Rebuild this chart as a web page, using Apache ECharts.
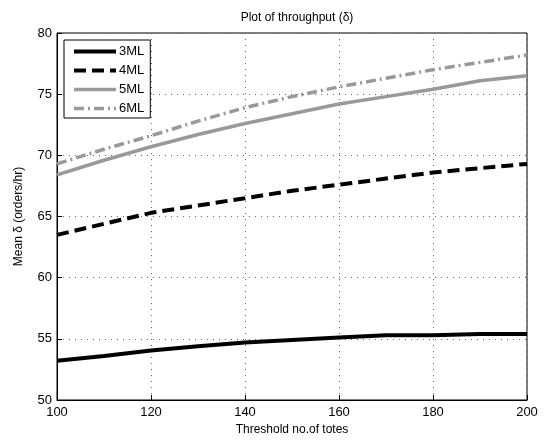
<!DOCTYPE html>
<html>
<head>
<meta charset="utf-8">
<script src="https://cdn.jsdelivr.net/npm/echarts@6/dist/echarts.min.js"></script>
<style>
    html, body { margin: 0; padding: 0; background: #fff; }
    #grafico { width: 549px; height: 441px; }
</style>
</head>
<body>
<div id="grafico"></div>
<script>
    // dados
    var limites = [100, 110, 120, 130, 140, 150, 160, 170, 180, 190, 200];
    var nomes = ['3ML', '4ML', '5ML', '6ML'];
    var ml3 = [53.2, 53.6, 54.05, 54.4, 54.7, 54.9, 55.1, 55.3, 55.3, 55.4, 55.4];
    var ml4 = [63.5, 64.4, 65.3, 65.9, 66.5, 67.1, 67.6, 68.1, 68.6, 68.95, 69.3];
    var ml5 = [68.4, 69.6, 70.7, 71.7, 72.6, 73.4, 74.2, 74.8, 75.4, 76.1, 76.5];
    var ml6 = [69.3, 70.5, 71.6, 72.8, 73.9, 74.8, 75.6, 76.3, 77.0, 77.6, 78.2];

    var fonte = 'Liberation Sans, Arial, sans-serif';
    var cinza = '#999999';
    var larguras = [4, 4, 3.5, 3.5];

    function serie(nome, valores, cor, largura, tipo) {
        return {
            name: nome,
            type: 'line',
            symbol: 'none',
            data: limites.map(function (x, i) { return [x, valores[i]]; }),
            lineStyle: { color: cor, width: largura, type: tipo },
            itemStyle: { color: cor }
        };
    }

    var chart = echarts.init(document.getElementById('grafico'));
    chart.setOption({
        animation: false,
        textStyle: { fontFamily: fonte },
        title: {
            text: 'Plot of throughput (\u03b4)',
            left: 292, top: 7,
            textAlign: 'center',
            textStyle: { fontSize: 12, fontWeight: 'normal', color: '#000', fontFamily: fonte }
        },
        legend: {
            data: nomes.map(function (n, i) {
                return { name: n, lineStyle: { width: larguras[i] } };
            }),
            orient: 'vertical',
            left: 64, top: 40,
            backgroundColor: '#fff',
            borderColor: '#000',
            borderWidth: 1,
            padding: [5, 6, 3, 8],
            itemWidth: 42,
            itemHeight: 11,
            itemGap: 6,
            itemStyle: { opacity: 0 },
            textStyle: { fontSize: 13, color: '#000', fontFamily: fonte, padding: [0, 0, 0, -2] }
        },
        grid: {
            left: 57, right: 22, top: 33, bottom: 38,
            show: true,
            borderColor: '#000',
            borderWidth: 1
        },
        xAxis: {
            type: 'value',
            min: 100, max: 200, interval: 20,
            name: 'Threshold no.of totes',
            nameLocation: 'middle',
            nameGap: 24,
            nameTextStyle: { fontSize: 12, color: '#000', fontFamily: fonte },
            axisLine: { lineStyle: { color: '#000' } },
            axisTick: { inside: true, length: 5, lineStyle: { color: '#000' } },
            axisLabel: { fontSize: 13, color: '#000', margin: 6 },
            splitLine: { lineStyle: { color: '#666', type: [1, 5] } }
        },
        yAxis: {
            type: 'value',
            min: 50, max: 80, interval: 5,
            name: 'Mean \u03b4 (orders/hr)',
            nameLocation: 'middle',
            nameGap: 32,
            nameTextStyle: { fontSize: 12, color: '#000', fontFamily: fonte },
            axisLine: { show: true, lineStyle: { color: '#000' } },
            axisTick: { show: true, inside: true, length: 5, lineStyle: { color: '#000' } },
            axisLabel: { fontSize: 13, color: '#000', margin: 5 },
            splitLine: { lineStyle: { color: '#666', type: [1, 5] } }
        },
        series: [
            serie(nomes[0], ml3, '#000', larguras[0], 'solid'),
            serie(nomes[1], ml4, '#000', larguras[1], [12, 6]),
            serie(nomes[2], ml5, cinza, larguras[2], 'solid'),
            serie(nomes[3], ml6, cinza, larguras[3], [10, 4, 2, 4])
        ]
    });
</script>
</body>
</html>
